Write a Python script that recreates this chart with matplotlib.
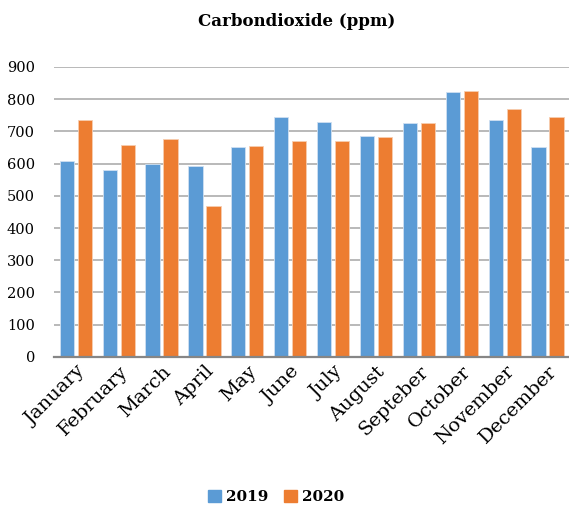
import numpy as np
import matplotlib.pyplot as plt
from matplotlib.patches import Patch

months = ["January", "February", "March", "April", "May", "June",
          "July", "August", "Septeber", "October", "November", "December"]
co2_2019 = [609, 581, 599, 594, 653, 744, 729, 687, 727, 822, 734, 653]
co2_2020 = [736, 659, 677, 469, 655, 671, 671, 683, 725, 825, 768, 745]
yticks = [0, 100, 200, 300, 400, 500, 600, 700, 800, 900]

blue = "#5B9BD5"
orange = "#ED7D31"

plt.rcParams['font.family'] = ['DejaVu Serif']

fig = plt.figure(figsize=(5.69, 5.07), dpi=100)
ax = fig.add_axes([0.0955, 0.296, 0.9045, 0.572])

x = np.arange(len(months))
w = 0.33
ax.bar(x - 0.21, co2_2019, w, color=blue, edgecolor="#cfe0f2", linewidth=0.6, zorder=3)
ax.bar(x + 0.21, co2_2020, w, color=orange, edgecolor="#f7cdb0", linewidth=0.6, zorder=3)

ax.set_xlim(-0.5, len(months) - 0.5)
ax.set_ylim(0, 900)
ax.set_yticks(yticks)
ax.set_yticklabels([str(v) for v in yticks], fontsize=10.5)
ax.set_xticks(x)
ax.set_xticklabels(months, rotation=45, ha="right", rotation_mode="anchor", fontsize=14)
ax.tick_params(axis="x", length=0, pad=4)
ax.tick_params(axis="y", length=0, pad=14)

ax.grid(axis="y", color="#a6a6a6", linewidth=1.1, zorder=0)
for s in ["top", "right", "left"]:
    ax.spines[s].set_visible(False)
ax.spines["bottom"].set_color("#868686")
ax.spines["bottom"].set_linewidth(1.6)
ax.spines["bottom"].set_zorder(4)

fig.text(0.522, 0.958, "Carbondioxide (ppm)", ha="center", va="center",
         fontsize=12, fontweight="bold")

handles = [Patch(color=blue, label="2019"), Patch(color=orange, label="2020")]
fig.legend(handles=handles, loc="center", bbox_to_anchor=(0.485, 0.02), ncol=2,
           frameon=False, prop={"weight": "bold", "size": 11},
           handlelength=0.9, handleheight=0.9, handletextpad=0.3, columnspacing=1.0)

plt.savefig("out.png", dpi=100)
plt.close()
